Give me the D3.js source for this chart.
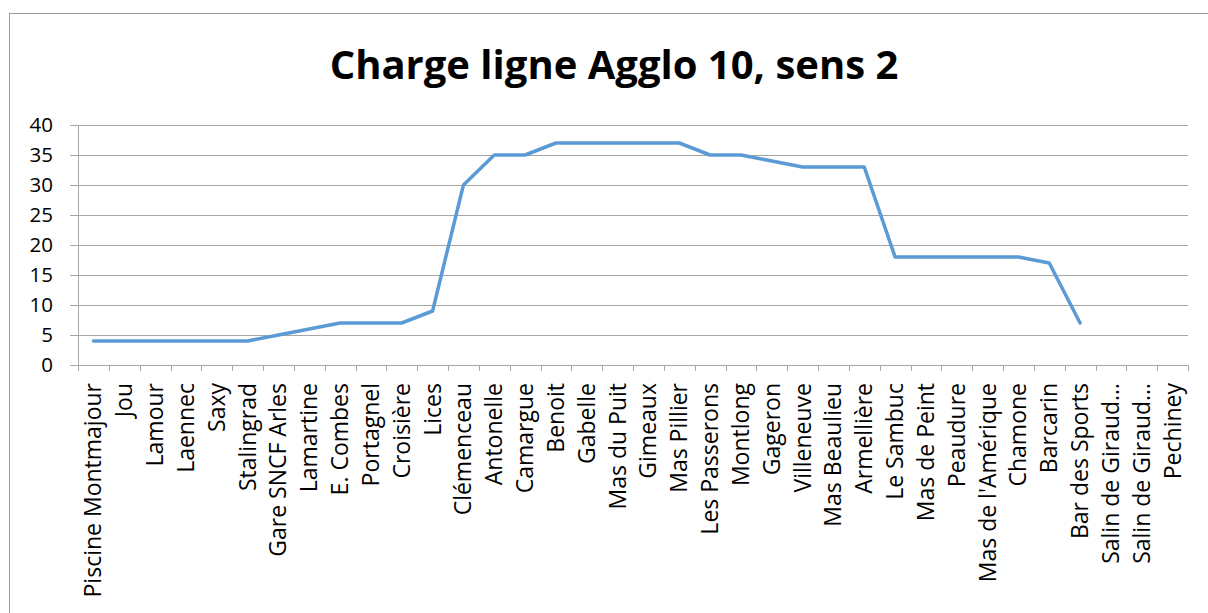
<!DOCTYPE html>
<html>
<head>
<meta charset="utf-8">
<script src="https://cdn.jsdelivr.net/npm/d3@7"></script>
<style>
  html, body { margin: 0; padding: 0; background: #fff; }
  svg { display: block; }
</style>
</head>
<body>
<svg id="chart" width="1208" height="613"></svg>
<script>
// Stops along line Agglo 10, direction 2
const stops = [
  "Piscine Montmajour", "Jou", "Lamour", "Laennec", "Saxy", "Stalingrad",
  "Gare SNCF Arles", "Lamartine", "E. Combes", "Portagnel", "Croisière", "Lices",
  "Clémenceau", "Antonelle", "Camargue", "Benoit", "Gabelle", "Mas du Puit",
  "Gimeaux", "Mas Pillier", "Les Passerons", "Montlong", "Gageron", "Villeneuve",
  "Mas Beaulieu", "Armellière", "Le Sambuc", "Mas de Peint", "Peaudure",
  "Mas de l'Amérique", "Chamone", "Barcarin", "Bar des Sports",
  "Salin de Giraud…", "Salin de Giraud…", "Pechiney"
];
// Passenger load after each stop (no data for the last three stops)
const load = [
  4, 4, 4, 4, 4, 4,
  5, 6, 7, 7, 7, 9,
  30, 35, 35, 37, 37, 37,
  37, 37, 35, 35, 34, 33,
  33, 33, 18, 18, 18,
  18, 18, 17, 7,
  null, null, null
];
const yTicks = [0, 5, 10, 15, 20, 25, 30, 35, 40];
const title = "Charge ligne Agglo 10, sens 2";

const svg = d3.select("#chart");
const plotLeft = 78, plotRight = 1188, plotTop = 125, plotBottom = 365;
const gridColor = "#a6a6a6";
const fontFamily = "'Open Sans', 'Noto Sans', sans-serif";

// Outer chart frame
svg.append("rect")
  .attr("x", 9.5).attr("y", 13.5)
  .attr("width", 1208).attr("height", 640)
  .attr("fill", "none").attr("stroke", "#9a9a9a").attr("stroke-width", 1);

const x = d3.scaleBand().domain(d3.range(stops.length)).range([plotLeft, plotRight]).padding(0);
const y = d3.scaleLinear().domain([0, 40]).range([plotBottom, plotTop]);

// Horizontal gridlines + y labels
const yAxis = d3.axisLeft(y).tickValues(yTicks).tickSize(-(plotRight - plotLeft)).tickPadding(25);
const gy = svg.append("g").attr("transform", `translate(${plotLeft},0)`).call(yAxis);
gy.select(".domain").remove();
gy.selectAll(".tick line")
  .attr("x1", -8)
  .attr("stroke", gridColor).attr("stroke-width", 1)
  .attr("shape-rendering", "crispEdges");
gy.selectAll(".tick text")
  .attr("font-family", fontFamily).attr("font-size", 20.5).attr("fill", "#000");

// Vertical axis line
svg.append("line")
  .attr("x1", plotLeft + 0.5).attr("x2", plotLeft + 0.5)
  .attr("y1", plotTop).attr("y2", plotBottom + 5)
  .attr("stroke", gridColor).attr("stroke-width", 1);

// Category axis with boundary tick marks
const gx = svg.append("g").attr("transform", `translate(0,${plotBottom})`);
gx.append("line")
  .attr("x1", plotLeft).attr("x2", plotRight).attr("y1", 0.5).attr("y2", 0.5)
  .attr("stroke", gridColor);
gx.selectAll("line.tk")
  .data(d3.range(stops.length + 1))
  .join("line").attr("class", "tk")
  .attr("x1", i => Math.round(plotLeft + i * x.bandwidth()) + 0.5)
  .attr("x2", i => Math.round(plotLeft + i * x.bandwidth()) + 0.5)
  .attr("y1", 0).attr("y2", 6)
  .attr("stroke", gridColor);
gx.selectAll("text")
  .data(stops)
  .join("text")
  .attr("transform", (d, i) => `translate(${x(i) + x.bandwidth() / 2 + 8},18) rotate(-90)`)
  .attr("text-anchor", "end")
  .attr("font-family", fontFamily).attr("font-size", 23).attr("fill", "#000")
  .text(d => d);

// Load line
const line = d3.line()
  .defined(d => d != null)
  .x((d, i) => x(i) + x.bandwidth() / 2)
  .y(d => y(d));
svg.append("path")
  .datum(load)
  .attr("d", line)
  .attr("fill", "none")
  .attr("stroke", "#5b9bd5")
  .attr("stroke-width", 3.5)
  .attr("stroke-linejoin", "round")
  .attr("stroke-linecap", "round");

// Title
svg.append("text")
  .attr("x", 614).attr("y", 79)
  .attr("text-anchor", "middle")
  .attr("font-family", fontFamily).attr("font-weight", "bold")
  .attr("font-size", 40).attr("fill", "#000")
  .text(title);
</script>
</body>
</html>
